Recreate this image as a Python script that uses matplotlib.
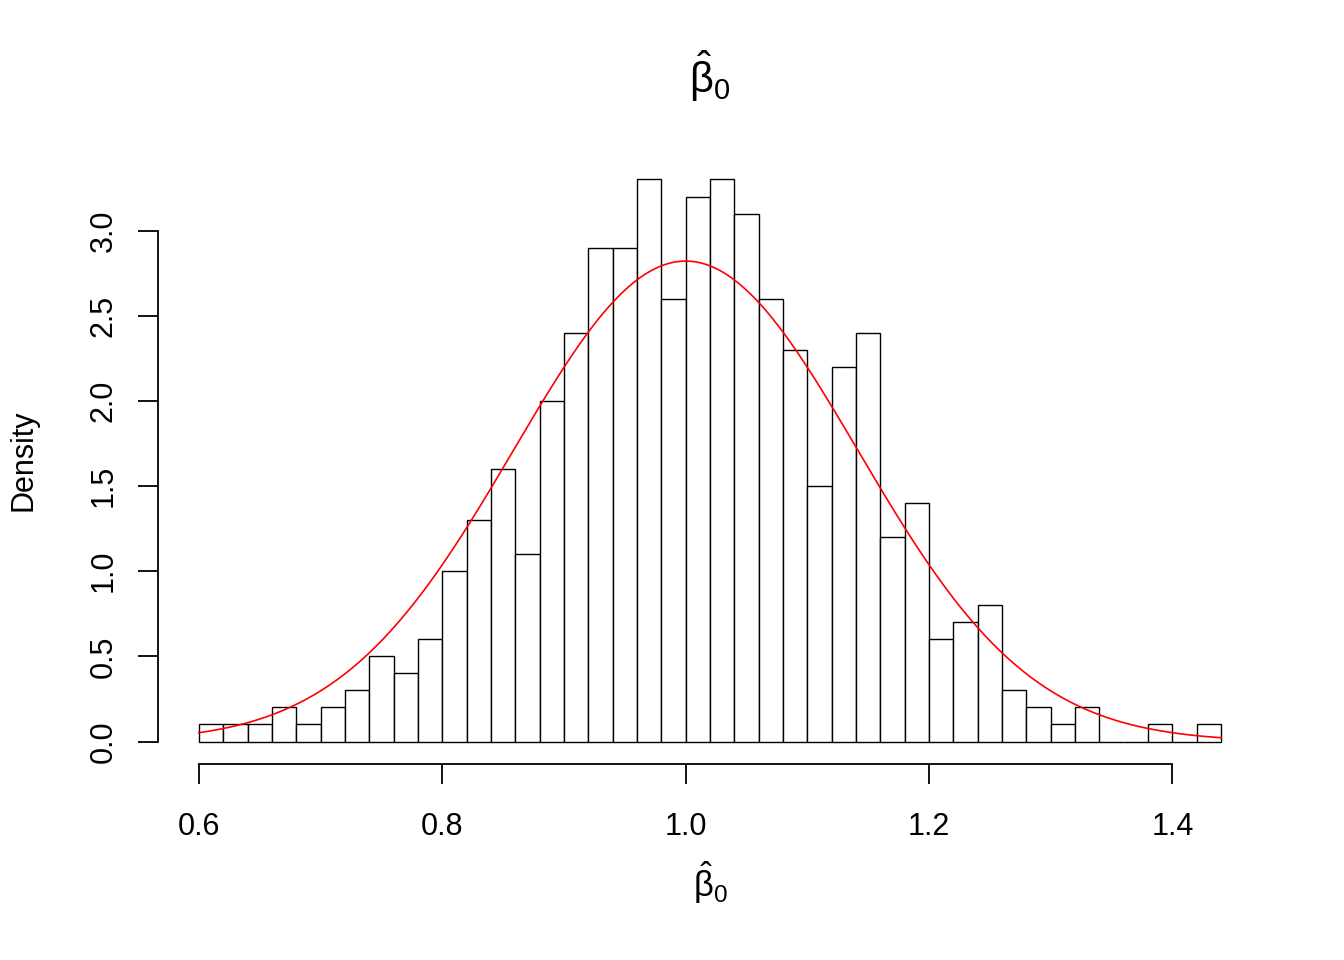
import numpy as np
import matplotlib
matplotlib.use("Agg")
import matplotlib.pyplot as plt

plt.rcParams['font.family'] = ['Liberation Sans', 'DejaVu Sans']
plt.rcParams['mathtext.fontset'] = 'custom'
plt.rcParams['mathtext.rm'] = 'Liberation Sans'
plt.rcParams['mathtext.it'] = 'Liberation Sans'
plt.rcParams['mathtext.default'] = 'regular'

# Histogram: bin edges and density heights
bin_start = 0.60
bin_width = 0.02
densities = [0.1, 0.1, 0.1, 0.2, 0.1, 0.2, 0.3, 0.5, 0.4, 0.6,
             1.0, 1.3, 1.6, 1.1, 2.0, 2.4, 2.9, 2.9, 3.3, 2.6,
             3.2, 3.3, 3.1, 2.6, 2.3, 1.5, 2.2, 2.4, 1.2, 1.4,
             0.6, 0.7, 0.8, 0.3, 0.2, 0.1, 0.2, 0.0, 0.0, 0.1,
             0.0, 0.1]
# Theoretical normal density parameters
curve_mean = 1.0
curve_sd = np.sqrt(0.02)

x_ticks = [0.6, 0.8, 1.0, 1.2, 1.4]
x_tick_labels = ["0.6", "0.8", "1.0", "1.2", "1.4"]
y_ticks = [0.0, 0.5, 1.0, 1.5, 2.0, 2.5, 3.0]
y_tick_labels = ["0.0", "0.5", "1.0", "1.5", "2.0", "2.5", "3.0"]

W, H = 1344, 960
fig = plt.figure(figsize=(W / 100, H / 100), dpi=100)
ax = fig.add_axes([158 / W, 1 - 764 / H, (1262 - 158) / W, (764 - 157) / H])

edges = bin_start + bin_width * np.arange(len(densities) + 1)
ax.bar(edges[:-1], densities, width=bin_width, align='edge',
       facecolor='white', edgecolor='black', linewidth=1.0)

lo, hi = edges[0], edges[-1]
xs = np.linspace(lo, hi, 400)
ys = np.exp(-0.5 * ((xs - curve_mean) / curve_sd) ** 2) / (curve_sd * np.sqrt(2 * np.pi))
ax.plot(xs, ys, color='red', linewidth=1.2)

rng = hi - lo
ax.set_xlim(lo - 0.04 * rng, hi + 0.04 * rng)
ymax = max(densities)
ax.set_ylim(-0.04 * ymax, ymax * 1.04)

for s in ['top', 'right']:
    ax.spines[s].set_visible(False)
ax.spines['bottom'].set_bounds(0.6, 1.4)
ax.spines['left'].set_bounds(0.0, 3.0)
ax.spines['bottom'].set_linewidth(1.3)
ax.spines['left'].set_linewidth(1.3)

ax.set_xticks(x_ticks)
ax.set_xticklabels(x_tick_labels)
ax.set_yticks(y_ticks)
ax.set_yticklabels(y_tick_labels, rotation=90, va='center')
ax.tick_params(axis='both', direction='out', length=14.4, width=1.3,
               labelsize=22, color='black')
ax.tick_params(axis='x', pad=20)
ax.tick_params(axis='y', pad=14)

beta_label = r'$\hat{\beta}_{0}$'
ax.set_xlabel(beta_label, fontsize=25, labelpad=13)
ax.set_ylabel('Density', fontsize=22, labelpad=36)
ax.set_title(beta_label, fontsize=30, pad=46)

fig.savefig('out.png', dpi=100)
